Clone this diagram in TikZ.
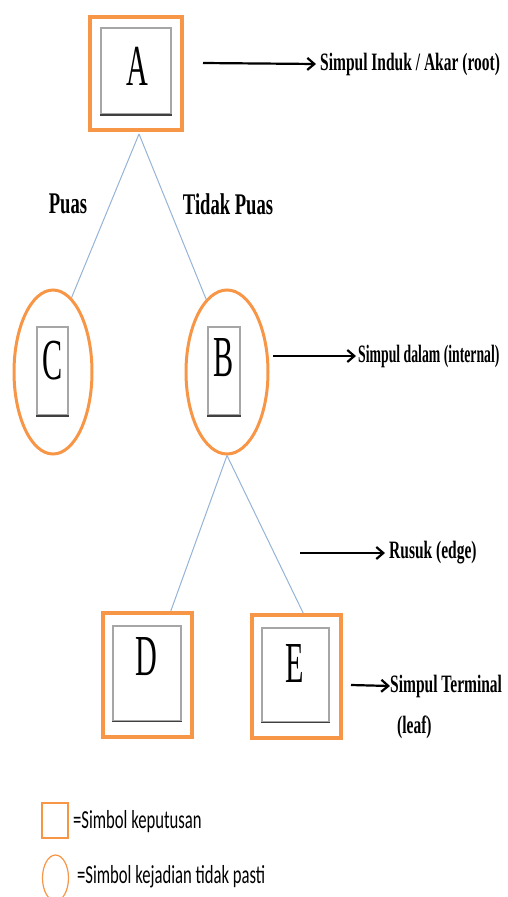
\documentclass[tikz,border=0pt]{standalone}
\usepackage{fontspec}
\setmainfont{Liberation Serif}
\newfontfamily\lblfont[FakeStretch=0.62]{Liberation Serif}
\newfontfamily\lblnarrow[FakeStretch=0.55]{Liberation Serif}
\newfontfamily\letfont[FakeStretch=0.52]{Liberation Serif}
\newfontfamily\legfont[FakeStretch=0.64]{Carlito}
\usetikzlibrary{arrows.meta,shapes.geometric}
\definecolor{orng}{RGB}{247,150,70}
\definecolor{edgeblue}{RGB}{149,179,215}
\tikzset{
  decbox/.style={draw=orng, line width=4pt, minimum width=#1, inner sep=0pt},
  chance/.style={draw=orng, line width=3pt, ellipse, inner sep=0pt},
  innerbox/.style={draw=gray!70, line width=1.2pt, inner sep=0pt},
  letter/.style={font=\letfont\fontsize{58}{60}\selectfont, inner sep=0pt},
  treeedge/.style={draw=edgeblue, line width=1pt},
  pointer/.style={draw=black, line width=2.2pt, -{Straight Barb[length=7pt,width=12pt]}},
  lbl/.style={font=\lblfont\bfseries\fontsize{25}{28}\selectfont, anchor=west, inner sep=0pt},
  branch/.style={font=\lblfont\bfseries\fontsize{30}{32}\selectfont, inner sep=0pt},
  leg/.style={font=\legfont\fontsize{26}{28}\selectfont, anchor=west, inner sep=0pt}
}
\begin{document}
\begin{tikzpicture}[x=1pt,y=-1pt]
\useasboundingbox (0,0) rectangle (507,897);
% A
\node[decbox=92pt, minimum height=113pt] (A) at (136,73.5) {};
\node[innerbox, minimum width=70pt, minimum height=86pt] (Ai) at (136,71) {};
\draw[gray!50!black, line width=2pt] (Ai.south west) -- (Ai.south east);
\node[letter] (At) at (137,66) {A};
% C
\node[chance, minimum width=78pt, minimum height=164pt] (C) at (53,372) {};
\node[innerbox, minimum width=31pt, minimum height=88pt] (Ci) at (52.5,371) {};
\draw[gray!50!black, line width=2pt] (Ci.south west) -- (Ci.south east);
\node[letter] (Ct) at (53,361) {C};
% B
\node[chance, minimum width=82pt, minimum height=164pt] (B) at (227,372) {};
\node[innerbox, minimum width=32pt, minimum height=88pt] (Bi) at (224,371) {};
\draw[gray!50!black, line width=2pt] (Bi.south west) -- (Bi.south east);
\node[letter] (Bt) at (224,358) {B};
% D
\node[decbox=89pt, minimum height=124pt] (D) at (147.5,675) {};
\node[innerbox, minimum width=68pt, minimum height=95pt] (Di) at (147,673.5) {};
\draw[gray!50!black, line width=1.5pt] (Di.south west) -- (Di.south east);
\node[letter] (Dt) at (146,657) {D};
% E
\node[decbox=89pt, minimum height=123pt] (E) at (296.5,676.5) {};
\node[innerbox, minimum width=67pt, minimum height=94pt] (Ei) at (295.5,675) {};
\draw[gray!50!black, line width=1.5pt] (Ei.south west) -- (Ei.south east);
\node[letter] (Et) at (295,664) {E};
% tree edges
\draw[treeedge] (A.south) ++(3,2) coordinate (Abot) (Abot) -- (C.76);
\draw[treeedge] (Abot) -- (B.106);
\draw[treeedge] (B.south) -- (D.70);
\draw[treeedge] (B.south) -- (E.84);
% branch labels
\node[branch] (puas) at (68,204) {Puas};
\node[branch] (tpuas) at (228,204) {Tidak Puas};
% annotations
\node[lbl] (lroot) at (320,64) {Simpul Induk / Akar (root)};
\coordinate (sroot) at (203,63);
\draw[pointer] (sroot) -- ([xshift=-4pt]lroot.west);
\node[lbl, font=\lblnarrow\bfseries\fontsize{25}{28}\selectfont] (lint) at (358,356) {Simpul dalam (internal)};
\coordinate (sint) at (273,356);
\draw[pointer] (sint) -- ([xshift=-2pt]lint.west);
\node[lbl] (ledge) at (389,553) {Rusuk (edge)};
\coordinate (sedge) at (300,553);
\draw[pointer] (sedge) -- ([xshift=-4pt]ledge.west);
\node[lbl] (lleaf) at (390,686) {Simpul Terminal};
\node[lbl] (lleaf2) at (397,727) {(leaf)};
\coordinate (sleaf) at (351,685);
\draw[pointer] (sleaf) -- ([xshift=0pt]lleaf.west);
% legend
\node[draw=orng, line width=2pt, minimum width=26pt, minimum height=35pt, inner sep=0pt] (legsq) at (55,820.5) {};
\node[leg] (legt1) at (73,822) {=Simbol keputusan};
\node[draw=orng, line width=1.2pt, ellipse, minimum width=26pt, minimum height=46pt, inner sep=0pt] (legci) at (55.5,878) {};
\node[leg] (legt2) at (77,877) {=Simbol kejadian tidak pasti};
\end{tikzpicture}
\end{document}
